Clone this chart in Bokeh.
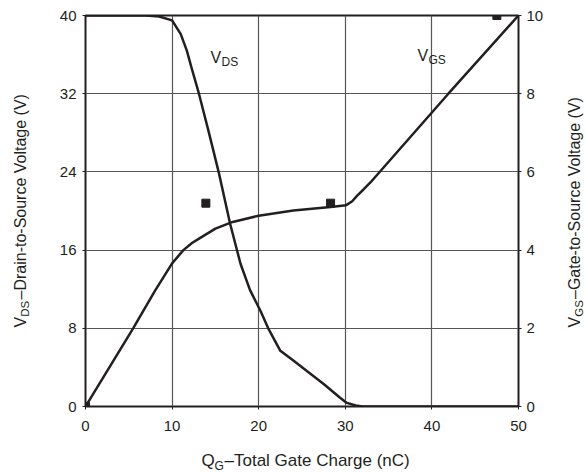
import math
from bokeh.plotting import figure
from bokeh.layouts import row, column
from bokeh.models import Range1d, LinearAxis, FixedTicker, Label
from bokeh.embed import file_html
from bokeh.resources import INLINE

# ---- data ----
qg_vds = [0, 7, 8.5, 10, 11, 11.7, 12.2, 13.1, 14.2, 15.4, 16.7, 17.9, 19, 20.2, 21.1, 22.5, 24, 25.6, 27.5, 29.4, 30.1, 31.2, 32, 50]
vds = [40, 40, 39.9, 39.5, 38.1, 36.4, 34.8, 32, 28.2, 23.9, 18.7, 14.6, 11.9, 9.8, 8.0, 5.7, 4.7, 3.6, 2.3, 0.9, 0.4, 0.1, 0, 0]

qg_vgs = [0, 5.5, 8, 10, 11.3, 12.3, 13.3, 15, 17, 20, 24, 28.3, 30.1, 30.8, 31.4, 32.1, 32.9, 41.9, 50]
vgs = [0, 2.0, 2.95, 3.66, 4.0, 4.18, 4.32, 4.55, 4.72, 4.88, 5.01, 5.1, 5.15, 5.25, 5.4, 5.55, 5.73, 8.0, 10]

mark_qg = [0, 13.9, 28.3, 47.5]
mark_vgs = [0, 5.2, 5.2, 10]

x_ticks = [0, 10, 20, 30, 40, 50]
vds_ticks = [0, 8, 16, 24, 32, 40]
vgs_ticks = [0, 2, 4, 6, 8, 10]

INK = "#231F20"
GRID = "#555555"
FONT = "Liberation Sans"

W, H = 585, 472
FL, FR, FT, FB = 85, 518, 15, 406      # frame edges in page pixels
SIDE_L, SIDE_R = 35, 35                # widths of the side title strips
MAIN_H = 440                           # height of the main chart strip
MAIN_W = W - SIDE_L - SIDE_R
BASE = 0.34                            # baseline correction (fraction of font size)

p = figure(width=MAIN_W, height=MAIN_H, output_backend="svg", toolbar_location=None,
           x_range=Range1d(0, 50), y_range=Range1d(0, 40),
           min_border_left=FL - SIDE_L, min_border_right=(W - SIDE_R) - FR,
           min_border_top=FT, min_border_bottom=MAIN_H - FB)
p.title.visible = False
p.background_fill_color = "white"
p.border_fill_color = "white"
p.outline_line_color = INK
p.outline_line_width = 2
p.extra_y_ranges = {"vgs": Range1d(0, 10)}

for ax in [p.xaxis[0], p.yaxis[0]]:
    ax.axis_line_color = None
    ax.major_tick_line_color = INK
    ax.major_tick_in = 0
    ax.major_tick_out = 3
    ax.minor_tick_line_color = None
    ax.major_label_text_font = FONT
    ax.major_label_text_font_size = "15px"
    ax.major_label_text_color = INK

p.xaxis[0].ticker = FixedTicker(ticks=x_ticks)
p.xaxis[0].major_label_standoff = 11
p.yaxis[0].ticker = FixedTicker(ticks=vds_ticks)
p.yaxis[0].major_label_standoff = 6

rax = LinearAxis(y_range_name="vgs", ticker=FixedTicker(ticks=vgs_ticks))
rax.axis_line_color = None
rax.major_tick_line_color = INK
rax.major_tick_in = 0
rax.major_tick_out = 3
rax.minor_tick_line_color = None
rax.major_label_text_font = FONT
rax.major_label_text_font_size = "15px"
rax.major_label_text_color = INK
rax.major_label_standoff = 5
p.add_layout(rax, "right")

p.xgrid.ticker = FixedTicker(ticks=x_ticks[1:-1])
p.ygrid.ticker = FixedTicker(ticks=vds_ticks[1:-1])
for g in [p.xgrid[0], p.ygrid[0]]:
    g.grid_line_color = GRID
    g.grid_line_width = 1.2

p.line(qg_vds, vds, line_color=INK, line_width=2.5)
p.line(qg_vgs, vgs, line_color=INK, line_width=2.5, y_range_name="vgs")
p.scatter(mark_qg, mark_vgs, marker="square", size=8, fill_color=INK, line_color=INK,
          y_range_name="vgs")


def strip(w, h):
    f = figure(width=w, height=h, output_backend="svg", toolbar_location=None,
               x_range=Range1d(0, w), y_range=Range1d(0, h),
               x_axis_type=None, y_axis_type=None, min_border=0)
    f.title.visible = False
    f.outline_line_color = None
    f.background_fill_color = "white"
    f.border_fill_color = "white"
    return f


left = strip(SIDE_L, MAIN_H)
right = strip(SIDE_R, MAIN_H)
bottom = strip(W, H - MAIN_H)


def lab(fig, ox, oy, px, py, text, size, angle=0.0):
    """Place text whose baseline is at page pixel (px, py); (ox, oy) is the strip's origin."""
    if angle:
        px -= BASE * size
    else:
        py -= BASE * size
    fig.add_layout(Label(x=px - ox, y=py - oy, x_units="canvas", y_units="canvas",
                         text=text, text_font=FONT, text_font_size=f"{size}px",
                         text_color=INK, angle=angle, text_align="left",
                         text_baseline="alphabetic"))


# in-plot labels
lab(p, SIDE_L, 0, 210, 62, "V", 16)
lab(p, SIDE_L, 0, 221, 66, "DS", 12)
lab(p, SIDE_L, 0, 417, 60, "V", 16)
lab(p, SIDE_L, 0, 428, 64, "GS", 12)

# bottom title
lab(bottom, 0, MAIN_H, 201, 466, "Q", 17)
lab(bottom, 0, MAIN_H, 214, 469.5, "G", 12)
lab(bottom, 0, MAIN_H, 224, 466, "\u2013Total Gate Charge (nC)", 17)

# left title (rotated, reading upward)
a = math.pi / 2
lab(left, 0, 0, 25, 327, "V", 16, a)
lab(left, 0, 0, 28.5, 316.3, "DS", 11.5, a)
lab(left, 0, 0, 25, 299, "\u2013Drain-to-Source Voltage (V)", 16, a)

# right title
ox_r = W - SIDE_R
lab(right, ox_r, 0, 579.5, 327, "V", 16, a)
lab(right, ox_r, 0, 582.5, 316.3, "GS", 11.5, a)
lab(right, ox_r, 0, 579.5, 298.5, "\u2013Gate-to-Source Voltage (V)", 16, a)

layout = column(row(left, p, right, spacing=0), bottom, spacing=0)

open("out.html", "w").write(file_html(layout, INLINE))
